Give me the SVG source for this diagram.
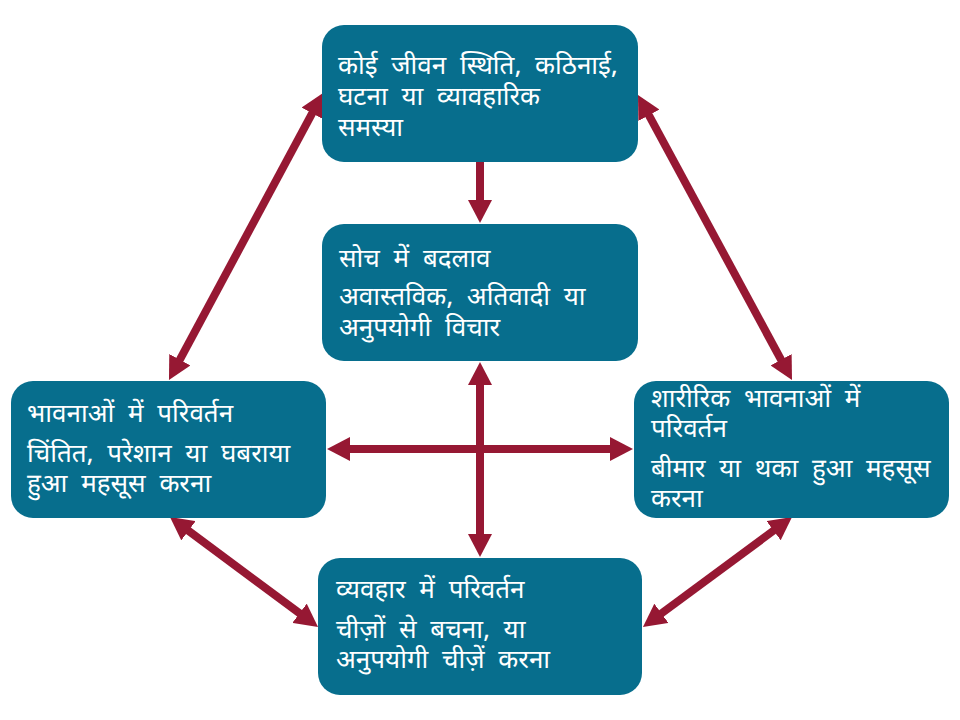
<svg xmlns="http://www.w3.org/2000/svg" width="960" height="720" viewBox="0 0 960 720">
<defs>
<style>
.box{fill:#076E8D;}
.t{font-family:"Noto Sans Devanagari","Noto Sans","Lohit Devanagari",sans-serif;font-size:26px;word-spacing:7px;fill:#ffffff;}
.c{stroke:#961833;stroke-width:8;fill:none;}
</style>
<marker id="ah" viewBox="0 0 23 24" markerUnits="userSpaceOnUse" markerWidth="23" markerHeight="24" refX="13" refY="12" orient="auto-start-reverse">
<path d="M0,0 L23,12 L0,24 z" fill="#961833"/>
</marker>
</defs>
<rect width="960" height="720" fill="#ffffff"/>
<g id="connectors">
<line class="c" x1="480" y1="162" x2="480" y2="213" marker-end="url(#ah)"/>
<line class="c" x1="480" y1="372" x2="480" y2="547" marker-start="url(#ah)" marker-end="url(#ah)"/>
<line class="c" x1="337" y1="449" x2="623" y2="449" marker-start="url(#ah)" marker-end="url(#ah)"/>
<line class="c" x1="173.7" y1="371.2" x2="318.3" y2="101.8" marker-start="url(#ah)" marker-end="url(#ah)"/>
<line class="c" x1="642.75" y1="103.8" x2="787.25" y2="371.2" marker-start="url(#ah)" marker-end="url(#ah)"/>
<line class="c" x1="178" y1="523" x2="310" y2="621" marker-start="url(#ah)" marker-end="url(#ah)"/>
<line class="c" x1="784" y1="522.9" x2="651" y2="621.1" marker-start="url(#ah)" marker-end="url(#ah)"/>
</g>
<g id="node-top">
<rect class="box" x="322" y="25" width="316" height="137" rx="22"/>
<text class="t" x="338" y="74">कोई जीवन स्थिति, कठिनाई,</text>
<text class="t" x="338" y="105">घटना या व्यावहारिक</text>
<text class="t" x="338" y="136">समस्या</text>
</g>
<g id="node-center">
<rect class="box" x="322" y="224" width="316" height="137" rx="22"/>
<text class="t" x="339" y="267">सोच में बदलाव</text>
<text class="t" x="339" y="305">अवास्तविक, अतिवादी या</text>
<text class="t" x="339" y="336">अनुपयोगी विचार</text>
</g>
<g id="node-left">
<rect class="box" x="11" y="381" width="315" height="137" rx="22"/>
<text class="t" x="27" y="422">भावनाओं में परिवर्तन</text>
<text class="t" x="27" y="462">चिंतित, परेशान या घबराया</text>
<text class="t" x="27" y="492">हुआ महसूस करना</text>
</g>
<g id="node-right">
<rect class="box" x="634" y="381" width="315" height="137" rx="22"/>
<text class="t" x="651" y="407">शारीरिक भावनाओं में</text>
<text class="t" x="651" y="437">परिवर्तन</text>
<text class="t" x="651" y="477">बीमार या थका हुआ महसूस</text>
<text class="t" x="651" y="507">करना</text>
</g>
<g id="node-bottom">
<rect class="box" x="318" y="558" width="324" height="137" rx="22"/>
<text class="t" x="336" y="598">व्यवहार में परिवर्तन</text>
<text class="t" x="336" y="638">चीज़ों से बचना, या</text>
<text class="t" x="336" y="668">अनुपयोगी चीज़ें करना</text>
</g>
</svg>
